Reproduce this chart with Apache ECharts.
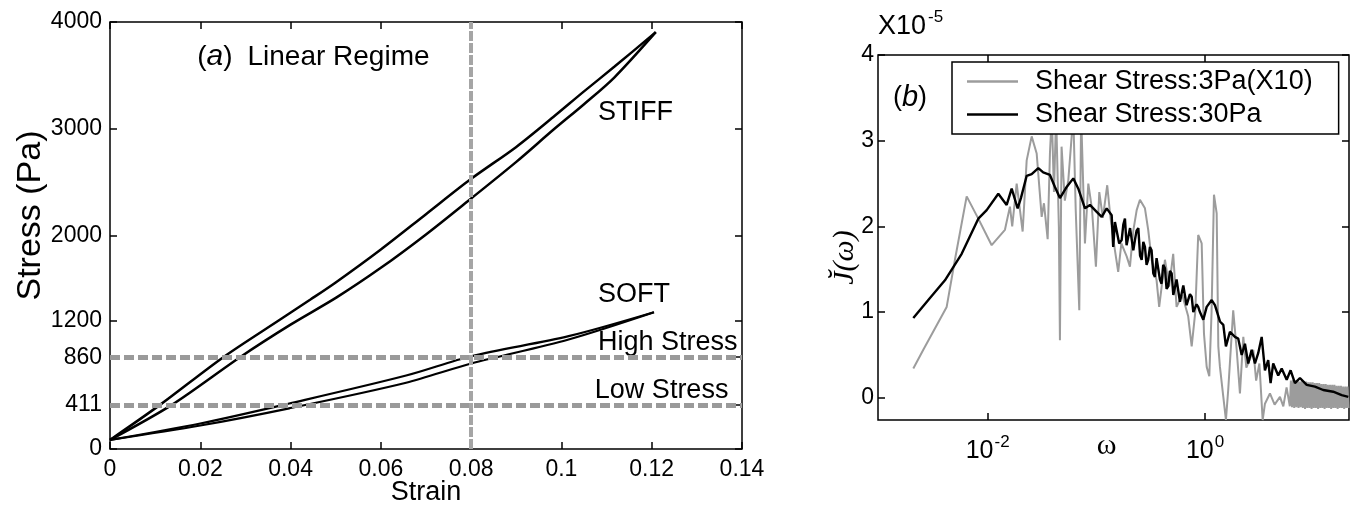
<!DOCTYPE html>
<html>
<head>
<meta charset="utf-8">
<script src="https://cdn.jsdelivr.net/npm/echarts@6/dist/echarts.min.js"></script>
<style>
    html, body { margin: 0; padding: 0; background: #fff; }
    #main { width: 1357px; height: 512px; }
</style>
</head>
<body>
<div id="main"></div>
<script>
// (a) stress / strain loops, [strain, stress (Pa)]
var stiffLoading = [
    [0, 85], [0.0136, 411], [0.0288, 860], [0.04, 1165], [0.0502, 1420], [0.06, 1697], [0.07, 2010],
    [0.08, 2347], [0.09, 2690], [0.0982, 2990], [0.105, 3230], [0.1117, 3480], [0.1209, 3905]
];
var stiffUnloading = [
    [0.1209, 3905], [0.1117, 3580], [0.105, 3350], [0.0982, 3110], [0.09, 2830], [0.08, 2531], [0.07, 2200],
    [0.06, 1869], [0.05, 1560], [0.0444, 1400], [0.0377, 1213], [0.0251, 860], [0.011, 411], [0, 85]
];
var softLoading = [
    [0, 85], [0.02, 220], [0.0397, 381], [0.0656, 621], [0.08, 801], [0.1016, 1026], [0.1205, 1281]
];
var softUnloading = [
    [0.1205, 1281], [0.1016, 1057], [0.08, 869], [0.0656, 688], [0.0397, 426], [0.02, 239], [0, 85]
];
var stressLevels = [411, 860];
var strainLevel = 0.0806;
var stressTicks = [0, 411, 860, 1200, 2000, 3000, 4000];

// labels inside panel (a): anchor [strain, stress]
var notePos = [[0.1081, 3148], [0.1081, 1443], [0.1081, 993], [0.1074, 543]];
var noteText = ['STIFF', 'SOFT', 'High Stress', 'Low Stress'];
var titlePosA = [0.0193, 3672];

// (b) spectra, [log10(omega), J in units of 1e-5]
var stress3Pa = [
    [-2.684, 0.34], [-2.592, 0.56], [-2.377, 1.06], [-2.301, 1.61], [-2.193, 2.35], [-2.086, 2.09],
    [-1.963, 1.78], [-1.841, 1.96], [-1.795, 2.23], [-1.774, 2.00], [-1.733, 2.50], [-1.678, 1.94],
    [-1.641, 2.77], [-1.595, 3.05], [-1.549, 2.85], [-1.503, 2.11], [-1.482, 2.27], [-1.448, 1.85],
    [-1.427, 2.85], [-1.41, 3.3], [-1.39, 2.4], [-1.37, 3.3], [-1.345, 2.0], [-1.335, 0.67],
    [-1.32, 2.93], [-1.29, 2.3], [-1.258, 2.54], [-1.212, 3.3], [-1.19, 2.2], [-1.157, 1.02],
    [-1.14, 3.3], [-1.105, 1.80], [-1.074, 2.50], [-1.04, 2.2], [-1.004, 1.53], [-0.973, 2.40],
    [-0.94, 2.1], [-0.900, 2.48], [-0.87, 2.1], [-0.829, 1.72], [-0.799, 1.47], [-0.77, 1.8],
    [-0.721, 1.65], [-0.691, 1.53], [-0.66, 1.95], [-0.629, 2.19], [-0.599, 2.31], [-0.553, 2.21],
    [-0.523, 1.96], [-0.49, 1.6], [-0.446, 1.37], [-0.422, 1.06], [-0.369, 1.61], [-0.33, 1.3],
    [-0.293, 1.68], [-0.262, 1.06], [-0.21, 1.2], [-0.155, 0.95], [-0.123, 0.60], [-0.09, 1.0],
    [-0.063, 1.90], [-0.031, 1.80], [-0.010, 0.75], [0.015, 0.36], [0.039, 0.25], [0.06, 1.0],
    [0.082, 2.37], [0.107, 2.15], [0.122, 0.60], [0.137, 0.36], [0.168, 0.01], [0.192, -0.26],
    [0.213, 0.09], [0.259, 1.02], [0.291, 0.56], [0.321, 0.05], [0.352, 0.71], [0.38, 0.35],
    [0.413, 0.45], [0.444, 0.56], [0.47, 0.2], [0.5, 0.4], [0.530, -0.26], [0.551, -0.07],
    [0.597, 0.05], [0.64, -0.08], [0.689, 0.01], [0.72, -0.1], [0.75, 0.12], [0.78, -0.1],
    [0.79, 0.20], [0.80, -0.11], [0.81, 0.21], [0.82, -0.12], [0.83, 0.20], [0.84, -0.11],
    [0.85, 0.21], [0.86, -0.12], [0.87, 0.19], [0.88, -0.11], [0.89, 0.20], [0.90, -0.12],
    [0.91, 0.19], [0.92, -0.13], [0.93, 0.19], [0.94, -0.12], [0.95, 0.18], [0.96, -0.12],
    [0.97, 0.18], [0.98, -0.13], [0.99, 0.18], [1.00, -0.12], [1.01, 0.17], [1.02, -0.12],
    [1.03, 0.17], [1.04, -0.13], [1.05, 0.17], [1.06, -0.12], [1.07, 0.16], [1.08, -0.12],
    [1.09, 0.16], [1.10, -0.13], [1.11, 0.16], [1.12, -0.12], [1.13, 0.15], [1.14, -0.12],
    [1.15, 0.15], [1.16, -0.13], [1.17, 0.15], [1.18, -0.12], [1.19, 0.15], [1.20, -0.12],
    [1.21, 0.14], [1.22, -0.13], [1.23, 0.14], [1.24, -0.12], [1.25, 0.14], [1.26, -0.12],
    [1.27, 0.13], [1.28, -0.13], [1.29, 0.13], [1.30, -0.12], [1.31, 0.13], [1.32, -0.12]
];
var stress30Pa = [
    [-2.684, 0.93], [-2.546, 1.14], [-2.393, 1.37], [-2.239, 1.68], [-2.086, 2.09], [-2.009, 2.19],
    [-1.902, 2.38], [-1.825, 2.25], [-1.779, 2.44], [-1.724, 2.21], [-1.694, 2.33], [-1.641, 2.59],
    [-1.595, 2.61], [-1.534, 2.68], [-1.489, 2.63], [-1.427, 2.60], [-1.381, 2.46], [-1.335, 2.33],
    [-1.273, 2.46], [-1.212, 2.56], [-1.166, 2.44], [-1.105, 2.21], [-1.059, 2.25], [-0.997, 2.17],
    [-0.951, 2.11], [-0.905, 2.21], [-0.859, 2.13], [-0.845, 1.76], [-0.829, 2.05], [-0.813, 2.07],
    [-0.790, 1.80], [-0.767, 1.84], [-0.752, 2.02], [-0.737, 2.09], [-0.722, 1.78], [-0.706, 1.76],
    [-0.690, 1.98], [-0.675, 1.96], [-0.660, 1.72], [-0.645, 1.84], [-0.630, 1.95], [-0.614, 1.98],
    [-0.598, 1.66], [-0.583, 1.61], [-0.568, 1.82], [-0.553, 1.76], [-0.538, 1.55], [-0.523, 1.61],
    [-0.507, 1.76], [-0.492, 1.72], [-0.476, 1.45], [-0.461, 1.41], [-0.446, 1.63], [-0.431, 1.61],
    [-0.415, 1.38], [-0.400, 1.33], [-0.385, 1.55], [-0.369, 1.51], [-0.354, 1.27], [-0.339, 1.30],
    [-0.323, 1.48], [-0.307, 1.45], [-0.292, 1.20], [-0.277, 1.18], [-0.262, 1.38], [-0.247, 1.37],
    [-0.231, 1.12], [-0.215, 1.14], [-0.200, 1.31], [-0.185, 1.30], [-0.170, 1.08], [-0.155, 1.10],
    [-0.139, 1.21], [-0.123, 1.18], [-0.108, 1.00], [-0.093, 1.02], [-0.078, 1.09], [-0.063, 1.06],
    [-0.047, 1.00], [-0.016, 0.91], [0.015, 1.06], [0.061, 1.14], [0.091, 1.08], [0.137, 0.89],
    [0.168, 0.85], [0.192, 0.60], [0.229, 0.77], [0.275, 0.71], [0.305, 0.69], [0.337, 0.50],
    [0.367, 0.63], [0.397, 0.40], [0.429, 0.56], [0.459, 0.40], [0.489, 0.52], [0.521, 0.71],
    [0.551, 0.32], [0.581, 0.44], [0.603, 0.17], [0.627, 0.40], [0.673, 0.26], [0.705, 0.34],
    [0.751, 0.21], [0.787, 0.32], [0.827, 0.17], [0.873, 0.23], [0.935, 0.15], [1.011, 0.13],
    [1.087, 0.09], [1.179, 0.07], [1.257, 0.03], [1.318, 0.01]
];
var jTicks = [0, 1, 2, 3, 4];
var omegaTicks = [0.01, 1];
var titlePosB = [-2.871, 3.50];

var FONT = 'Liberation Sans, Arial, sans-serif';
var SERIF = 'Liberation Serif, serif';

function toOmega(arr) {
    return arr.map(function (p) {
        return [Math.pow(10, p[0]), p[1]];
    });
}

function tick(custom) {
    var t = {inside: true, length: 7, lineStyle: {color: '#000', width: 1.5}};
    if (custom) t.customValues = custom;
    return t;
}

function loopLine(name, data, width) {
    return {
        type: 'line', name: name, xAxisIndex: 0, yAxisIndex: 0,
        data: data, symbol: 'none', smooth: 0.3,
        lineStyle: {color: '#000', width: width}
    };
}

var chart = echarts.init(document.getElementById('main'));

var stiffSeries = loopLine('stiffLoading', stiffLoading, 2.5);
stiffSeries.markLine = {
    silent: true, symbol: ['none', 'none'], label: {show: false},
    data: stressLevels.map(function (s) {
        return {yAxis: s, lineStyle: {color: '#9a9a9a', width: 5, type: [10, 4]}};
    }).concat([{xAxis: strainLevel, lineStyle: {color: '#a5a5a5', width: 4, type: [10, 2]}}])
};

var option = {
    backgroundColor: '#fff',
    animation: false,
    textStyle: {fontFamily: FONT, color: '#000'},
    title: {
        text: '{b|X10}{s|-5}',
        left: 873,
        top: 4,
        textStyle: {
            rich: {
                b: {fontSize: 27, fontFamily: FONT, fontWeight: 'normal', color: '#000', verticalAlign: 'bottom'},
                s: {fontSize: 17, fontFamily: FONT, fontWeight: 'normal', color: '#000', verticalAlign: 'bottom', padding: [0, 0, 14, 2]}
            }
        }
    },
    legend: {
        data: [
            {name: 'Shear Stress:3Pa(X10)', icon: 'rect'},
            {name: 'Shear Stress:30Pa', icon: 'rect'}
        ],
        orient: 'vertical',
        left: 952,
        top: 62,
        padding: [6, 26, 6, 15],
        itemWidth: 51,
        itemHeight: 2.5,
        itemGap: 6,
        borderColor: '#000',
        borderWidth: 1.5,
        backgroundColor: '#fff',
        formatter: '{t|{name}}',
        textStyle: {
            rich: {t: {fontSize: 27, fontFamily: FONT, color: '#000', padding: [0, 0, 0, 12]}}
        }
    },
    grid: [
        {left: 110, top: 22, width: 632, height: 427, show: true, borderColor: '#000', borderWidth: 1.5, outerBoundsMode: 'none'},
        {left: 878, top: 55, width: 471, height: 365, show: true, borderColor: '#000', borderWidth: 1.5, outerBoundsMode: 'none'}
    ],
    xAxis: [
        {
            type: 'value', gridIndex: 0, min: 0, max: 0.14, interval: 0.02,
            axisLine: {show: false, onZero: false}, axisTick: tick(), splitLine: {show: false},
            axisLabel: {fontSize: 23, margin: 9, color: '#000', fontFamily: FONT},
            name: 'Strain', nameLocation: 'middle', nameGap: 30, nameMoveOverlap: false,
            nameTextStyle: {fontSize: 27, color: '#000', fontFamily: FONT}
        },
        {
            type: 'value', gridIndex: 0, position: 'top', min: 0, max: 0.14, interval: 0.02,
            axisLine: {show: false, onZero: false}, axisTick: tick(), axisLabel: {show: false}, splitLine: {show: false}
        },
        {
            type: 'log', logBase: 10, gridIndex: 1, min: 0.00098, max: 21.1,
            axisLine: {show: false, onZero: false}, axisTick: tick(omegaTicks), splitLine: {show: false}, minorTick: {show: false},
            axisLabel: {
                customValues: omegaTicks,
                margin: 14,
                formatter: function (v) {
                    return '{b|10}{s|' + Math.round(Math.log10(v)) + '}';
                },
                rich: {
                    b: {fontSize: 25, fontFamily: FONT, color: '#000', verticalAlign: 'bottom'},
                    s: {fontSize: 17, fontFamily: FONT, color: '#000', verticalAlign: 'bottom', padding: [0, 0, 13, 1]}
                }
            },
            name: 'ω', nameLocation: 'middle', nameGap: 11, nameMoveOverlap: false,
            nameTextStyle: {fontSize: 30, color: '#000', fontFamily: SERIF, padding: [0, 14, 0, 0]}
        },
        {
            type: 'log', logBase: 10, gridIndex: 1, position: 'top', min: 0.00098, max: 21.1,
            axisLine: {show: false, onZero: false}, axisTick: tick(omegaTicks), axisLabel: {show: false},
            splitLine: {show: false}, minorTick: {show: false}
        }
    ],
    yAxis: [
        {
            type: 'value', gridIndex: 0, min: 0, max: 4000,
            axisLine: {show: false, onZero: false}, axisTick: tick(stressTicks), splitLine: {show: false},
            axisLabel: {
                customValues: stressTicks, fontSize: 23, margin: 8, color: '#000', fontFamily: FONT,
                formatter: function (v) { return String(v); }
            },
            name: 'Stress (Pa)', nameLocation: 'middle', nameRotate: 90, nameGap: 62, nameMoveOverlap: false,
            nameTextStyle: {fontSize: 34, color: '#000', fontFamily: FONT, padding: [0, 0, 0, 40]}
        },
        {
            type: 'value', gridIndex: 0, position: 'right', min: 0, max: 4000,
            axisLine: {show: false, onZero: false}, axisTick: tick(stressTicks), axisLabel: {show: false}, splitLine: {show: false}
        },
        {
            type: 'value', gridIndex: 1, min: -0.26, max: 4,
            axisLine: {show: false, onZero: false}, axisTick: tick(jTicks), splitLine: {show: false},
            axisLabel: {customValues: jTicks, fontSize: 23, margin: 4, color: '#000', fontFamily: FONT},
            name: '{j|J\u0306}{p|(ω)}', nameLocation: 'middle', nameRotate: 90, nameGap: 18, nameMoveOverlap: false,
            nameTextStyle: {
                padding: [0, 40, 0, 0],
                rich: {
                    j: {fontSize: 30, fontStyle: 'italic', fontFamily: SERIF, color: '#000'},
                    p: {fontSize: 30, fontStyle: 'italic', fontFamily: SERIF, color: '#000'}
                }
            }
        },
        {
            type: 'value', gridIndex: 1, position: 'right', min: -0.26, max: 4,
            axisLine: {show: false, onZero: false}, axisTick: tick(jTicks), axisLabel: {show: false}, splitLine: {show: false}
        }
    ],
    series: [
        stiffSeries,
        loopLine('stiffUnloading', stiffUnloading, 2.5),
        loopLine('softLoading', softLoading, 2.2),
        loopLine('softUnloading', softUnloading, 2.2),
        {
            type: 'line', name: 'Shear Stress:3Pa(X10)', xAxisIndex: 2, yAxisIndex: 2,
            data: toOmega(stress3Pa), symbol: 'none',
            lineStyle: {color: '#9c9c9c', width: 2}, itemStyle: {color: '#9c9c9c'}
        },
        {
            type: 'line', name: 'Shear Stress:30Pa', xAxisIndex: 2, yAxisIndex: 2,
            data: toOmega(stress30Pa), symbol: 'none',
            lineStyle: {color: '#000', width: 2.4}, itemStyle: {color: '#000'}
        }
    ]
};

chart.setOption(option);

// panel annotations, placed in data coordinates through the axes
var notes = notePos.map(function (p, i) {
    var px = chart.convertToPixel({gridIndex: 0}, p);
    return {
        type: 'text', x: px[0], y: px[1], silent: true,
        style: {text: noteText[i], fontSize: 27, fontFamily: FONT, fill: '#000', verticalAlign: 'middle'}
    };
});
var pa = chart.convertToPixel({gridIndex: 0}, titlePosA);
notes.push({
    type: 'text', x: pa[0], y: pa[1], silent: true,
    style: {
        text: '{n|(}{i|a}{g|)}{n|Linear Regime}', verticalAlign: 'middle', fill: '#000',
        rich: {
            n: {fontSize: 28, fontFamily: FONT, fill: '#000'},
            g: {fontSize: 28, fontFamily: FONT, fill: '#000', padding: [0, 15, 0, 0]},
            i: {fontSize: 30, fontFamily: FONT, fontStyle: 'italic', fill: '#000'}
        }
    }
});
var pb = chart.convertToPixel({gridIndex: 1}, [Math.pow(10, titlePosB[0]), titlePosB[1]]);
notes.push({
    type: 'text', x: pb[0], y: pb[1], silent: true,
    style: {
        text: '{n|(}{i|b}{n|)}', verticalAlign: 'middle', fill: '#000',
        rich: {
            n: {fontSize: 27, fontFamily: FONT, fill: '#000'},
            i: {fontSize: 29, fontFamily: FONT, fontStyle: 'italic', fill: '#000'}
        }
    }
});
chart.setOption({graphic: notes});
</script>
</body>
</html>
